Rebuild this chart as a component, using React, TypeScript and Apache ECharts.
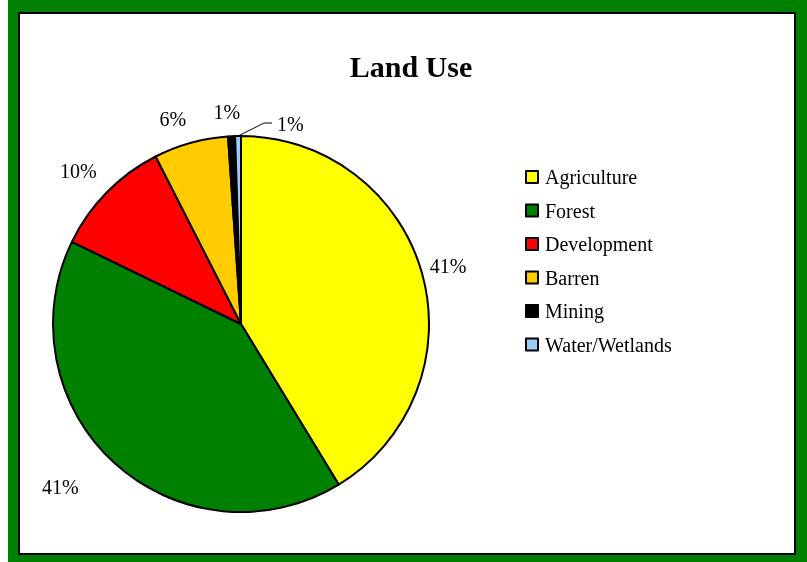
import React, { useEffect, useRef } from 'react';
import * as echarts from 'echarts';

const categories = ['Agriculture', 'Forest', 'Development', 'Barren', 'Mining', 'Water/Wetlands'];
const shares = [41.3, 40.9, 10.3, 6.4, 0.6, 0.5];
const sliceColors = ['#FFFF00', '#008000', '#FF0000', '#FFCC00', '#000000', '#99CCFF'];

// label nudges (styling only): [dx, dy]
const labelNudges = [[-7, -5], [-24, 17], [2, -14], [3, -14], [14, -14], [0, 0]];
const SERIF = '"Liberation Serif", "Times New Roman", serif';

export default function App() {
  const ref = useRef<HTMLDivElement>(null);
  useEffect(() => {
    if (!ref.current) return;
    const chart = echarts.init(ref.current, undefined, { renderer: 'svg' });
    const data = categories.map((name, i) => ({
      name,
      value: shares[i],
      itemStyle: { color: sliceColors[i] },
      labelLine: { show: i === 5 },
    }));
    chart.setOption({
      animation: false,
      graphic: [
        { type: 'rect', shape: { x: 8, y: 0, width: 799, height: 562 }, style: { fill: '#008000' }, silent: true },
        { type: 'rect', shape: { x: 19, y: 13, width: 776, height: 541 }, style: { fill: '#ffffff', stroke: '#000', lineWidth: 2 }, silent: true },
        {
          type: 'text', x: 411, y: 66,
          style: { text: 'Land Use', fill: '#000', font: `bold 30px ${SERIF}`, align: 'center', verticalAlign: 'middle' },
        },
      ],
      legend: {
        orient: 'vertical',
        left: 520,
        top: 162,
        itemWidth: 12,
        itemHeight: 12,
        itemGap: 13.5,
        icon: 'rect',
        selectedMode: false,
        itemStyle: { borderColor: '#000', borderWidth: 2 },
        textStyle: { fontFamily: SERIF, fontSize: 20, lineHeight: 20, color: '#000', padding: [0, 0, 0, 2] },
        data: categories,
      },
      series: [
        {
          type: 'pie',
          center: [241, 324],
          radius: 188,
          startAngle: 90,
          clockwise: true,
          avoidLabelOverlap: false,
          itemStyle: { borderColor: '#000', borderWidth: 2 },
          emphasis: { disabled: true },
          label: {
            show: true,
            position: 'outside',
            fontFamily: SERIF,
            fontSize: 20,
            color: '#000',
            distanceToLabelLine: 5,
            formatter: (p: any) => Math.round(p.percent) + '%',
          },
          labelLine: { show: false, length: 10, length2: 0, lineStyle: { color: '#000', width: 1 } },
          labelLayout: (p: any) => {
            const i = p.dataIndex;
            if (i === 5 && p.labelLinePoints) {
              const a = p.labelLinePoints[0];
              const knee = [a[0] + 26, a[1] - 13];
              const end = [knee[0] + 8, knee[1]];
              return {
                x: end[0] + 5,
                y: end[1] + 1,
                align: 'left',
                verticalAlign: 'middle',
                labelLinePoints: [a, knee, end],
              };
            }
            return { dx: labelNudges[i][0], dy: labelNudges[i][1] };
          },
          data,
        },
      ],
    });
    return () => chart.dispose();
  }, []);
  return <div ref={ref} style={{ position: 'fixed', left: 0, top: 0, width: 807, height: 562 }} />;
}
